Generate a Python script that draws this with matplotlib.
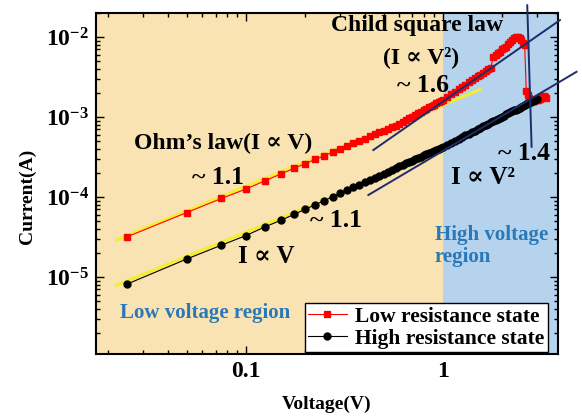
import numpy as np
import matplotlib
matplotlib.use('Agg')
import matplotlib.pyplot as plt
from matplotlib.ticker import LogLocator, NullFormatter

plt.rcParams['font.family'] = ['Liberation Serif', 'DejaVu Serif']
plt.rcParams['font.weight'] = 'bold'
plt.rcParams['mathtext.fontset'] = 'custom'
plt.rcParams['mathtext.rm'] = 'Liberation Serif:bold'
plt.rcParams['mathtext.bf'] = 'Liberation Serif:bold'

# Low resistance state
lrs_v = [0.025, 0.05, 0.075, 0.1, 0.125, 0.15, 0.175, 0.2, 0.225, 0.25, 0.275, 0.3,
         0.325, 0.35, 0.375, 0.4, 0.425, 0.45, 0.475, 0.5, 0.525, 0.55, 0.575, 0.6,
         0.625, 0.65, 0.675, 0.7, 0.725, 0.75, 0.775, 0.8, 0.825, 0.85, 0.875, 0.9,
         0.925, 0.95, 0.975, 1.0, 1.05, 1.1, 1.15, 1.2, 1.25, 1.3, 1.35,
         1.4, 1.45, 1.5, 1.55, 1.6, 1.65, 1.7, 1.75, 1.8, 1.85, 1.9, 1.95, 2.0,
         2.05, 2.1, 2.15, 2.2, 2.25, 2.3, 2.35, 2.4, 2.45, 2.5, 2.55, 2.6, 2.65,
         2.7, 2.75, 2.8, 2.85, 2.9, 2.95, 3.0, 3.05, 3.1, 3.15, 3.2, 3.25, 3.3, 3.35]
lrs_i = [3.2e-5, 6.4e-5, 9.6e-5, 1.26e-4, 1.6e-4, 1.94e-4, 2.28e-4, 2.62e-4, 2.96e-4,
         3.3e-4, 3.64e-4, 3.99e-4, 4.34e-4, 4.68e-4, 5.03e-4, 5.38e-4, 5.73e-4,
         6.08e-4, 6.43e-4, 6.79e-4, 7.14e-4, 7.49e-4, 7.84e-4, 8.2e-4,
         8.66e-4, 9.15e-4, 9.63e-4, 1.013e-3, 1.062e-3, 1.113e-3, 1.164e-3,
         1.216e-3, 1.268e-3, 1.32e-3, 1.375e-3, 1.43e-3, 1.485e-3, 1.54e-3,
         1.595e-3, 1.65e-3, 1.79e-3, 1.93e-3, 2.08e-3,
         2.23e-3, 2.38e-3, 2.54e-3, 2.71e-3, 2.88e-3, 3.05e-3, 3.22e-3, 3.4e-3,
         3.58e-3, 3.77e-3, 3.96e-3, 4.15e-3, 5.6e-3, 5.9e-3, 6.3e-3, 6.6e-3, 7.0e-3,
         7.3e-3, 7.6e-3, 8.2e-3, 8.8e-3, 9.3e-3, 9.7e-3, 1.0e-2, 1.0e-2, 9.8e-3,
         9.2e-3, 8.5e-3, 8.0e-3, 2.1e-3, 1.9e-3, 1.75e-3, 1.6e-3, 1.6e-3, 1.6e-3,
         1.62e-3, 1.65e-3, 1.65e-3, 1.7e-3, 1.75e-3, 1.8e-3, 1.85e-3, 1.8e-3, 1.75e-3]

# High resistance state
hrs_v = [0.025, 0.05, 0.075, 0.1, 0.125, 0.15, 0.175, 0.2, 0.225, 0.25, 0.275, 0.3,
         0.325, 0.35, 0.375, 0.4, 0.425, 0.45, 0.475, 0.5, 0.525, 0.55, 0.575, 0.6,
         0.625, 0.65, 0.675, 0.7, 0.725, 0.75, 0.775, 0.8, 0.825, 0.85, 0.875, 0.9,
         0.925, 0.95, 0.975, 1.0, 1.05, 1.1, 1.15, 1.2, 1.25, 1.3, 1.35,
         1.4, 1.45, 1.5, 1.55, 1.6, 1.65, 1.7, 1.75, 1.8, 1.85, 1.9, 1.95, 2.0,
         2.05, 2.1, 2.15, 2.2, 2.25, 2.3, 2.35, 2.4, 2.45, 2.5, 2.55, 2.6, 2.65,
         2.7, 2.75, 2.8, 2.85, 2.9, 2.95, 3.0]
hrs_i = [8.2e-6, 1.68e-5, 2.5e-5, 3.3e-5, 4.25e-5, 5.1e-5, 6.06e-5, 7.04e-5, 8.03e-5,
         9.04e-5, 1.006e-4, 1.109e-4, 1.212e-4, 1.317e-4, 1.423e-4, 1.53e-4,
         1.638e-4, 1.746e-4, 1.854e-4, 1.964e-4, 2.074e-4, 2.185e-4, 2.297e-4,
         2.41e-4, 2.52e-4, 2.63e-4, 2.743e-4, 2.856e-4, 2.968e-4, 3.08e-4,
         3.195e-4, 3.31e-4, 3.42e-4, 3.535e-4, 3.65e-4, 3.765e-4, 3.88e-4,
         3.995e-4, 4.11e-4, 4.23e-4, 4.5e-4,
         4.77e-4, 5.045e-4, 5.32e-4, 5.6e-4, 5.89e-4, 6.17e-4, 6.46e-4, 6.755e-4,
         7.05e-4, 7.35e-4, 7.65e-4, 7.95e-4, 8.26e-4, 8.56e-4, 8.87e-4, 9.18e-4,
         9.5e-4, 9.81e-4, 1.013e-3, 1.045e-3, 1.077e-3, 1.11e-3, 1.142e-3, 1.175e-3,
         1.208e-3, 1.241e-3, 1.275e-3, 1.308e-3, 1.342e-3, 1.376e-3, 1.41e-3,
         1.444e-3, 1.479e-3, 1.513e-3, 1.548e-3, 1.583e-3, 1.618e-3, 1.653e-3, 1.689e-3]

# fitted guide lines (end points)
ohm_lrs_v = [0.022, 1.54]
ohm_lrs_i = [2.9e-5, 2.2e-3]
ohm_hrs_v = [0.022, 1.0]
ohm_hrs_i = [7.9e-6, 3.7e-4]
child_lrs_v = [0.443, 3.93]
child_lrs_i = [3.87e-4, 1.63e-2]
child_hrs_v = [0.418, 4.77]
child_hrs_i = [1.06e-4, 3.68e-3]
switch_v = [2.68, 2.82]
switch_i = [2.5e-2, 4.25e-4]

x_ticks = [0.1, 1]
x_ticklabels = ['0.1', '1']
y_ticks = [1e-5, 1e-4, 1e-3, 1e-2]
y_ticklabels = [r'$\mathbf{10^{-5}}$', r'$\mathbf{10^{-4}}$', r'$\mathbf{10^{-3}}$', r'$\mathbf{10^{-2}}$']

orange_bg = '#fae3b2'
blue_bg = '#b5d3ec'
navy = '#1b2d6b'
yellow = '#f4ee2c'
region_blue = '#2a78b8'

fig = plt.figure(figsize=(5.82, 4.18), dpi=100)
ax = fig.add_axes([96 / 582, 64 / 418, 462 / 582, 341 / 418])
ax.set_xscale('log')
ax.set_yscale('log')
ax.set_xlim(0.0173, 3.84)
ax.set_ylim(1.09e-6, 2.0e-2)

ax.axvspan(0.0173, 1.0, color=orange_bg, lw=0, zorder=0)
ax.axvspan(1.0, 3.84, color=blue_bg, lw=0, zorder=0)

ax.plot(ohm_lrs_v, ohm_lrs_i, color=yellow, lw=2.2, zorder=2)
ax.plot(ohm_hrs_v, ohm_hrs_i, color=yellow, lw=2.2, zorder=2)

ax.plot(lrs_v, lrs_i, color='red', lw=0.8, marker='s', ms=5, mec='red', mfc='red',
        label='Low resistance state', zorder=3)
ax.plot(hrs_v, hrs_i, color='black', lw=0.8, marker='o', ms=5, mec='black', mfc='black',
        label='High resistance state', zorder=4)

ax.plot(child_lrs_v, child_lrs_i, color=navy, lw=1.4, zorder=5, clip_on=False)
ax.plot(child_hrs_v, child_hrs_i, color=navy, lw=1.4, zorder=5, clip_on=False)
ax.plot(switch_v, switch_i, color=navy, lw=1.4, zorder=5, clip_on=False)

ax.set_xticks(x_ticks)
ax.set_xticklabels(x_ticklabels, fontsize=17)
ax.set_yticks(y_ticks)
ax.set_yticklabels(y_ticklabels, fontsize=17)
ax.xaxis.set_minor_locator(LogLocator(base=10, subs=np.arange(2, 10)))
ax.yaxis.set_minor_locator(LogLocator(base=10, subs=np.arange(2, 10)))
ax.xaxis.set_minor_formatter(NullFormatter())
ax.yaxis.set_minor_formatter(NullFormatter())
ax.tick_params(which='both', direction='in', top=True, right=True, width=1.0)
ax.tick_params(which='major', length=6, pad=5)
ax.tick_params(which='minor', length=3)
for s in ax.spines.values():
    s.set_linewidth(1.5)

ax.set_xlabel('Voltage(V)', fontsize=14, fontweight='bold', labelpad=10)
ax.set_ylabel('Current(A)', fontsize=14, fontweight='bold')
ax.yaxis.set_label_coords(-0.13, 0.463)

ax.text(0.0764, 4.73e-4, 'Ohm\u2019s law(I \u221d V)', fontsize=17, ha='center', va='center')
ax.text(0.072, 1.78e-4, '~ 1.1', fontsize=18.5, ha='center', va='center')
ax.text(0.286, 5.16e-5, '~ 1.1', fontsize=18.5, ha='center', va='center')
ax.text(0.126, 1.78e-5, 'I \u221d V', fontsize=18, ha='center', va='center')
ax.text(0.738, 1.41e-2, 'Child square law', fontsize=17, ha='center', va='center')
ax.text(0.773, 5.6e-3, '(I \u221d V\u00b2)', fontsize=17, ha='center', va='center')
ax.text(0.79, 2.45e-3, '~ 1.6', fontsize=18.5, ha='center', va='center')
ax.text(2.58, 3.55e-4, '~ 1.4', fontsize=18.5, ha='center', va='center')
ax.text(1.6, 1.78e-4, 'I \u221d V\u00b2', fontsize=18, ha='center', va='center')
ax.text(0.911, 2.44e-5, 'High voltage\nregion', fontsize=15, color=region_blue,
        ha='left', va='center', linespacing=1.15)
ax.text(0.0229, 3.55e-6, 'Low voltage region', fontsize=15, color=region_blue,
        ha='left', va='center')

leg = ax.legend(loc='lower right', bbox_to_anchor=(0.978, 0.006), fontsize=15.5,
                frameon=True, fancybox=False, edgecolor='black', framealpha=1,
                handlelength=1.8, borderpad=0.15, labelspacing=0.1, handletextpad=0.4,
                borderaxespad=0)
leg.get_frame().set_linewidth(1.0)
leg.set_zorder(10)

fig.savefig('out.png', dpi=100)
